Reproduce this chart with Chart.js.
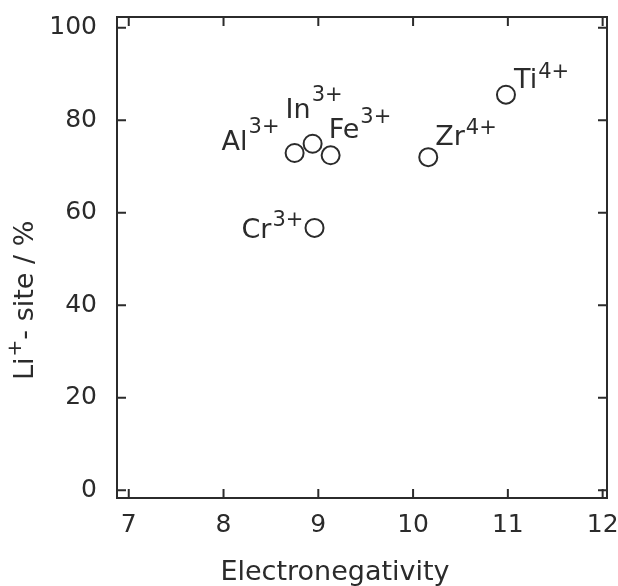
<!DOCTYPE html>
<html>
<head>
<meta charset="utf-8">
<script src="https://cdn.jsdelivr.net/npm/chart.js@4.4.1/dist/chart.umd.min.js"></script>
<style>
  html, body { margin: 0; padding: 0; background: #fff; }
  #wrap { width: 618px; height: 586px; }
</style>
</head>
<body>
<div id="wrap"><canvas id="chart" width="618" height="586"></canvas></div>
<script>
// Li+-site occupancy vs. electronegativity of the dopant ion

const ions = ['Al', 'In', 'Fe', 'Cr', 'Zr', 'Ti'];
const charges = ['3+', '3+', '3+', '3+', '4+', '4+'];
const electronegativity = [8.75, 8.94, 9.13, 8.96, 10.16, 10.98];
const liSitePercent = [72.9, 74.9, 72.4, 56.7, 72.0, 85.5];

const xTickValues = [7, 8, 9, 10, 11, 12];
const yTickValues = [0, 20, 40, 60, 80, 100];

// label placement relative to each point: [dx to text start, base baseline dy, superscript baseline dy]
const labelOffsets = [
    [-73, -3, -20],
    [-27, -26, -43],
    [-2, -17, -32],
    [-73, 10, -2],
    [7, -12, -23],
    [8, -7, -17]
];

const INK = '#2b2b2b';
const FONT = '"DejaVu Sans", sans-serif';

// Frame box with inward ticks on all four sides
const frameAndTicks = {
    id: 'frameAndTicks',
    afterDraw(chart) {
        const { ctx, chartArea: a, scales: { x, y } } = chart;
        const len = 9;
        ctx.save();
        ctx.strokeStyle = INK;
        ctx.lineWidth = 2;
        ctx.strokeRect(a.left, a.top, a.right - a.left, a.bottom - a.top);
        ctx.beginPath();
        xTickValues.forEach(v => {
            const px = x.getPixelForValue(v);
            ctx.moveTo(px, a.bottom); ctx.lineTo(px, a.bottom - len);
            ctx.moveTo(px, a.top); ctx.lineTo(px, a.top + len);
        });
        yTickValues.forEach(v => {
            const py = y.getPixelForValue(v);
            ctx.moveTo(a.left, py); ctx.lineTo(a.left + len, py);
            ctx.moveTo(a.right, py); ctx.lineTo(a.right - len, py);
        });
        ctx.stroke();
        ctx.restore();
    }
};

// Ion labels with superscript charges next to the points
const ionLabels = {
    id: 'ionLabels',
    afterDatasetsDraw(chart) {
        const { ctx } = chart;
        const meta = chart.getDatasetMeta(0);
        ctx.save();
        ctx.fillStyle = INK;
        ctx.textAlign = 'left';
        ctx.textBaseline = 'alphabetic';
        meta.data.forEach((pt, i) => {
            const [dx, dy, sdy] = labelOffsets[i];
            ctx.font = '27px ' + FONT;
            ctx.fillText(ions[i], pt.x + dx, pt.y + dy);
            const w = ctx.measureText(ions[i]).width;
            ctx.font = '21px ' + FONT;
            ctx.fillText(charges[i], pt.x + dx + w + 1, pt.y + sdy);
        });
        ctx.restore();
    }
};

// Axis titles (y title needs a superscript)
const axisTitles = {
    id: 'axisTitles',
    afterDraw(chart) {
        const { ctx } = chart;
        ctx.save();
        ctx.fillStyle = INK;
        ctx.textBaseline = 'alphabetic';

        ctx.font = '27px ' + FONT;
        ctx.textAlign = 'center';
        ctx.fillText('Electronegativity', 335, 580);

        ctx.translate(33, 380);
        ctx.rotate(-Math.PI / 2);
        ctx.textAlign = 'left';
        ctx.font = '27px ' + FONT;
        ctx.fillText('Li', 0, 0);
        let xo = ctx.measureText('Li').width + 1;
        ctx.font = '20px ' + FONT;
        ctx.fillText('+', xo, -12);
        xo += ctx.measureText('+').width;
        ctx.font = '27px ' + FONT;
        ctx.fillText('- site / %', xo, 0);
        ctx.restore();
    }
};

new Chart(document.getElementById('chart'), {
    type: 'scatter',
    data: {
        datasets: [{
            data: electronegativity.map((v, i) => ({ x: v, y: liSitePercent[i] })),
            pointStyle: 'circle',
            pointRadius: 9,
            pointBorderWidth: 2,
            pointBorderColor: INK,
            pointBackgroundColor: 'rgba(255,255,255,0)'
        }]
    },
    options: {
        responsive: false,
        animation: false,
        events: [],
        layout: { padding: { top: 17, right: 1, left: 0, bottom: 0 } },
        plugins: {
            legend: { display: false },
            tooltip: { enabled: false }
        },
        scales: {
            x: {
                type: 'linear',
                min: 6.876,
                max: 12.046,
                afterBuildTicks: s => { s.ticks = xTickValues.map(v => ({ value: v })); },
                afterFit: s => {
                    s.height = 88;
                    s.paddingLeft = 0; s.paddingRight = 0; s.paddingTop = 0; s.paddingBottom = 0;
                },
                grid: { display: false, drawTicks: false },
                border: { display: false },
                ticks: {
                    color: INK,
                    padding: 12,
                    maxRotation: 0,
                    font: { family: FONT, size: 25 }
                }
            },
            y: {
                type: 'linear',
                min: -1.7,
                max: 102.3,
                afterBuildTicks: s => { s.ticks = yTickValues.map(v => ({ value: v })); },
                afterFit: s => {
                    s.width = 117;
                    s.paddingLeft = 0; s.paddingRight = 0; s.paddingTop = 0; s.paddingBottom = 0;
                },
                grid: { display: false, drawTicks: false },
                border: { display: false },
                ticks: {
                    color: INK,
                    padding: 20,
                    font: { family: FONT, size: 25 }
                }
            }
        }
    },
    plugins: [frameAndTicks, ionLabels, axisTitles]
});
</script>
</body>
</html>
